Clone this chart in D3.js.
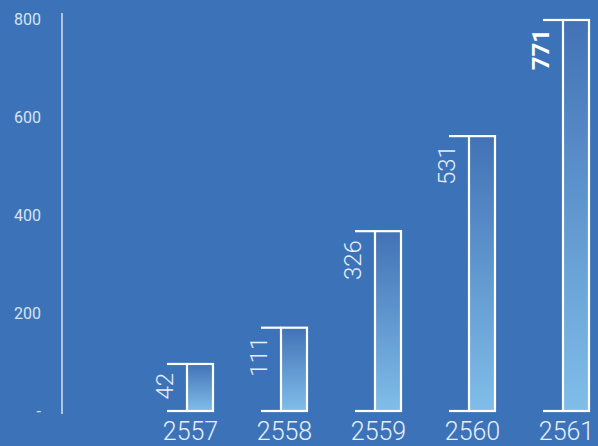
<!DOCTYPE html>
<html><head><meta charset="utf-8">
<script src="https://cdn.jsdelivr.net/npm/d3@7"></script>
<style>html,body{margin:0;padding:0;background:#3c73b8;}svg{display:block;}</style>
</head><body>
<svg id="c" width="598" height="446"></svg>
<script>
const categories = ["2557","2558","2559","2560","2561"];
const barValues = [96, 170, 367, 561, 798];
const valueLabels = ["42","111","326","531","771"];
const tickValues = [0, 200, 400, 600, 800];
const tickLabels = ["-", "200", "400", "600", "800"];

const svg = d3.select("#c");
const y = d3.scaleLinear().domain([0, 800]).range([411, 19]);
const x = d3.scalePoint().domain(categories).range([190, 566]);
const font = "Roboto, 'DejaVu Sans', sans-serif";

const defs = svg.append("defs");
const g = defs.append("linearGradient").attr("id","grad").attr("x1",0).attr("y1",0).attr("x2",0).attr("y2",1);
g.append("stop").attr("offset","0%").attr("stop-color","#4272b6");
g.append("stop").attr("offset","100%").attr("stop-color","#80bee9");

// y axis
const yAxis = d3.axisLeft(y).tickValues(tickValues).tickSize(0).tickPadding(0)
  .tickFormat((d,i)=>tickLabels[i]);
const ya = svg.append("g").attr("transform","translate(41,0)").call(yAxis);
ya.select(".domain").remove();
ya.selectAll("text").attr("fill","#d8e3f1").style("font-family",font).style("font-size","16px").style("font-weight","400");
svg.append("line").attr("x1",62).attr("x2",62).attr("y1",13).attr("y2",414)
  .attr("stroke","#d4e0f0").attr("stroke-width",1.5);

const half = 23, stemOff = 3;
const bars = svg.append("g").selectAll("g").data(categories).join("g");
bars.append("rect")
  .attr("x", d => x(d) - stemOff)
  .attr("y", (d,i) => y(barValues[i]))
  .attr("width", half + stemOff)
  .attr("height", (d,i) => y(0) - y(barValues[i]))
  .attr("fill","url(#grad)").attr("stroke","#fff").attr("stroke-width",2.2);
bars.append("line")
  .attr("x1", d => x(d) - half).attr("x2", d => x(d) - stemOff)
  .attr("y1", (d,i) => y(barValues[i])).attr("y2", (d,i) => y(barValues[i]))
  .attr("stroke","#fff").attr("stroke-width",2.2);
bars.append("line")
  .attr("x1", d => x(d) - half).attr("x2", d => x(d) - stemOff)
  .attr("y1", y(0)).attr("y2", y(0))
  .attr("stroke","#fff").attr("stroke-width",2.2);

// value labels
bars.append("text")
  .attr("transform", (d,i) => `translate(${x(d) - stemOff - 14},${y(barValues[i]) + 9}) rotate(-90)`)
  .attr("text-anchor","end")
  .attr("fill", (d,i) => i === 4 ? "#ffffff" : "#e6eef8")
  .style("font-family",font)
  .style("font-size","24px")
  .style("font-weight",(d,i)=> i === 4 ? "700" : "300")
  .text((d,i) => valueLabels[i]);

// x labels
const xAxis = d3.axisBottom(x).tickSize(0).tickPadding(0);
const xa = svg.append("g").attr("transform","translate(0,422)").call(xAxis);
xa.select(".domain").remove();
xa.selectAll("text").attr("fill","#e6eef8").attr("dy","0.71em").style("font-family",font).style("font-size","25px").style("font-weight","300");
</script>
</body></html>
